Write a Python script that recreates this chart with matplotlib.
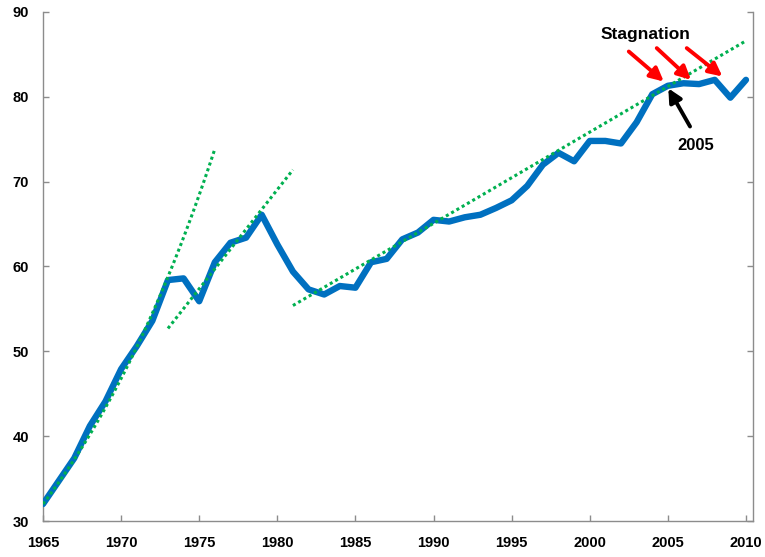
import matplotlib
matplotlib.use("Agg")
import matplotlib.pyplot as plt
import numpy as np

plt.rcParams['font.family'] = ['Liberation Sans', 'DejaVu Sans']

years = list(range(1965, 2011))
values = [32.0, 34.7, 37.4, 41.2, 44.1, 47.9, 50.6, 53.6, 58.4, 58.6,
          55.9, 60.5, 62.8, 63.4, 66.1, 62.6, 59.4, 57.3, 56.7, 57.7,
          57.5, 60.5, 60.9, 63.2, 64.0, 65.5, 65.3, 65.8, 66.1, 66.9,
          67.8, 69.5, 72.0, 73.4, 72.4, 74.8, 74.8, 74.5, 77.0, 80.3,
          81.3, 81.6, 81.5, 82.0, 79.9, 82.0]

# trend lines: (start year, end year, start value, end value, kind)
trend_x0 = [1965, 1973, 1981]
trend_x1 = [1976, 1981, 2010]
trend_y0 = [32.0, 52.7, 55.4]
trend_y1 = [73.85, 71.4, 86.6]
trend_kind = ['exp', 'lin', 'lin']

xticks = list(range(1965, 2011, 5))
yticks = list(range(30, 91, 10))

fig = plt.figure(figsize=(7.65, 5.57), dpi=100)
ax = fig.add_axes([0.0562, 0.0646, 0.9281, 0.9139])

ax.plot(years, values, color='#0070C0', lw=4.6, solid_joinstyle='round',
        solid_capstyle='round', zorder=3)

for x0, x1, y0, y1, kind in zip(trend_x0, trend_x1, trend_y0, trend_y1, trend_kind):
    tx = np.linspace(x0, x1, 60)
    if kind == 'exp':
        ty = np.geomspace(y0, y1, 60)
    else:
        ty = np.linspace(y0, y1, 60)
    ax.plot(tx, ty, color='#00B050', lw=2.2, linestyle=(0, (1, 1.0)),
            dash_capstyle='butt', zorder=4)

ax.set_xlim(1965, 2010.45)
ax.set_ylim(30, 90)
ax.set_xticks(xticks)
ax.set_yticks(yticks)

for s in ['left', 'bottom', 'right']:
    ax.spines[s].set_color('#8c8c8c')
    ax.spines[s].set_linewidth(1.0)
ax.spines['top'].set_visible(False)

ax.tick_params(axis='both', direction='in', length=4.5, width=1.0,
               color='#8c8c8c', labelsize=10.5)
ax.tick_params(axis='x', pad=11)
ax.tick_params(axis='y', pad=10, right=True)
for lab in ax.get_xticklabels() + ax.get_yticklabels():
    lab.set_fontweight('bold')

# red stagnation arrows
red_tails = [(2002.5, 85.34), (2004.29, 85.74), (2006.21, 85.74)]
red_heads = [(2004.74, 81.8), (2006.48, 82.0), (2008.49, 82.4)]
for t, h in zip(red_tails, red_heads):
    ax.annotate('', xy=h, xytext=t,
                arrowprops=dict(arrowstyle='-|>,head_length=0.8,head_width=0.4',
                                color='#FF0000', lw=2.8, shrinkA=0, shrinkB=0),
                zorder=5)
ax.text(2003.6, 87.3, 'Stagnation', ha='center', va='center',
        fontsize=12.5, fontweight='bold', color='black')

ax.annotate('', xy=(2005.03, 81.0), xytext=(2006.42, 76.5),
            arrowprops=dict(arrowstyle='-|>,head_length=0.8,head_width=0.4',
                            color='black', lw=2.8, shrinkA=0, shrinkB=0),
            zorder=5)
ax.text(2006.8, 74.3, '2005', ha='center', va='center',
        fontsize=12, fontweight='bold', color='black')

fig.savefig('out.png', dpi=100)
